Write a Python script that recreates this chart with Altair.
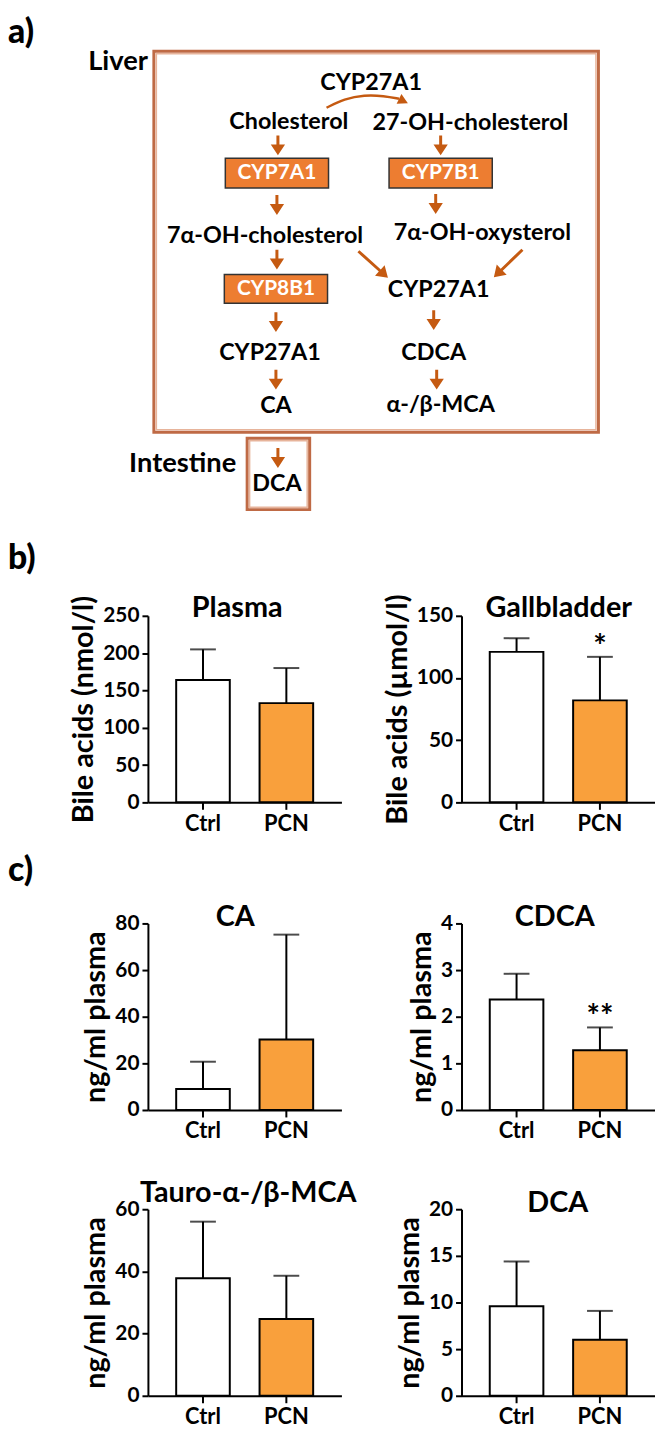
import altair as alt
import pandas as pd

# ---------------- values ----------------
groups = ["Ctrl", "PCN"]
bar_colors = ["#ffffff", "#f9a03c"]

plasma_mean = [164, 133]
plasma_sd = [41, 47]
gall_mean = [121, 82]
gall_sd = [11, 35]
ca_mean = [9, 30.2]
ca_sd = [11.7, 45]
cdca_mean = [2.37, 1.28]
cdca_sd = [0.55, 0.49]
tmca_mean = [37.8, 24.7]
tmca_sd = [18.2, 13.9]
dca_mean = [9.6, 6.0]
dca_sd = [4.8, 3.1]

gall_sig = ["", "*"]
cdca_sig = ["", "**"]
no_sig = ["", ""]

plasma_ticks = [0, 50, 100, 150, 200, 250]
gall_ticks = [0, 50, 100, 150]
ca_ticks = [0, 20, 40, 60, 80]
cdca_ticks = [0, 1, 2, 3, 4]
tmca_ticks = [0, 20, 40, 60]
dca_ticks = [0, 5, 10, 15, 20]

# ---------------- pathway diagram: texts ----------------
node_labels = ["CYP27A1", "Cholesterol", "27-OH-cholesterol", "7α-OH-cholesterol",
               "7α-OH-oxysterol", "CYP27A1", "CYP27A1", "CDCA", "CA", "α-/β-MCA", "DCA"]
enzyme_labels = ["CYP7A1", "CYP7B1", "CYP8B1"]
organ_labels = ["Liver", "Intestine"]
panel_letters = ["a)", "b)", "c)"]

# ---------------- layout (page pixel positions) ----------------
X0, X1 = 149, 344          # left column plot area
Y0, Y1 = 8, 612            # diagram cell
DY = -6                    # vertical nudge of the diagram
node_pos = [(374, 81), (291, 120), (474, 121), (267, 235), (486, 232), (442, 290),
            (272, 353), (437, 353), (278, 407), (444, 406), (279, 485)]
enzyme_box = [(227, 331, 157, 187), (392, 496, 157, 187), (226, 330, 274, 303)]
organ_label_pos = [(149, 60), (238, 465)]
organ_box = [(155, 603, 49, 433), (249, 312, 439, 511)]
letter_pos = [(8, 25), (8, 555), (8, 869)]
short_arrows = [(280, 144, 0), (444, 144, 0), (279, 204, 0), (439, 203, 0), (279, 259, 0),
                (278, 322, 0), (437, 320, 0), (278, 380, 0), (440, 380, 0), (280, 459, 0)]
long_arrows = [(376, 264, 312), (512, 263, 46)]
curve_pts = [(329, 106), (347, 97), (367, 93), (387, 94), (402, 97)]
curve_head = [(406, 99, 296)]

# chart title anchor inside each panel (x from plot left, baseline from plot top)
title_anchor = {"Plasma": (90, 1), "Gallbladder": (98, 1), "CA": (88, 3),
                "CDCA": (94, 3), "Tauro-α-/β-MCA": (101, -7), "DCA": (97, 3)}

ARROW = "#c55a11"
ORANGE = "#ed7d31"
BORDER = "#bf6a45"
BORDER_IN = "#e7b49b"
FONT = "Lato"

xs = alt.Scale(domain=[X0, X1], nice=False, zero=False)
ys = alt.Scale(domain=[Y0, Y1], nice=False, zero=False, reverse=True)


def X(f):
    return alt.X(f, type="quantitative", scale=xs, axis=None)


def Y(f):
    return alt.Y(f, type="quantitative", scale=ys, axis=None)


organ_df = pd.DataFrame({"x1": [b[0] for b in organ_box], "x2": [b[1] for b in organ_box],
                         "y1": [b[2] + DY for b in organ_box], "y2": [b[3] + DY for b in organ_box]})
organ_rect = alt.Chart(organ_df).mark_rect(fillOpacity=0, stroke=BORDER, strokeWidth=3).encode(
    x=X("x1"), x2="x2", y=Y("y1"), y2="y2")
organ_in = organ_df.copy()
organ_in["x1"] += 2.5
organ_in["x2"] -= 2.5
organ_in["y1"] += 2.5
organ_in["y2"] -= 2.5
organ_rect_in = alt.Chart(organ_in).mark_rect(fillOpacity=0, stroke=BORDER_IN, strokeWidth=1.5).encode(
    x=X("x1"), x2="x2", y=Y("y1"), y2="y2")

enz_df = pd.DataFrame({"label": enzyme_labels,
                       "x1": [b[0] for b in enzyme_box], "x2": [b[1] for b in enzyme_box],
                       "y1": [b[2] + DY for b in enzyme_box], "y2": [b[3] + DY for b in enzyme_box]})
enz_df["xc"] = (enz_df.x1 + enz_df.x2) / 2
enz_df["yc"] = (enz_df.y1 + enz_df.y2) / 2
enz_rect = alt.Chart(enz_df).mark_rect(fill=ORANGE, stroke="#333333", strokeWidth=1.5).encode(
    x=X("x1"), x2="x2", y=Y("y1"), y2="y2")
enz_text = alt.Chart(enz_df).mark_text(font=FONT, fontWeight="bold", fontSize=21, color="white",
                                       baseline="middle", align="center").encode(
    x=X("xc"), y=Y("yc"), text="label:N")

node_df = pd.DataFrame({"label": node_labels, "x": [p[0] for p in node_pos],
                        "y": [p[1] + DY for p in node_pos]})
node_text = alt.Chart(node_df).mark_text(font=FONT, fontWeight="bold", fontSize=23.5, color="black",
                                         baseline="middle", align="center").encode(
    x=X("x"), y=Y("y"), text="label:N")

organ_tdf = pd.DataFrame({"label": organ_labels, "x": [p[0] for p in organ_label_pos],
                          "y": [p[1] + DY for p in organ_label_pos]})
organ_text = alt.Chart(organ_tdf).mark_text(font=FONT, fontWeight="bold", fontSize=27.5, color="black",
                                            baseline="middle", align="right").encode(
    x=X("x"), y=Y("y"), text="label:N")

letter_df = pd.DataFrame({"label": panel_letters, "x": [p[0] for p in letter_pos],
                          "y": [p[1] for p in letter_pos]})
letter_text = alt.Chart(letter_df).mark_text(font=FONT, fontWeight=900, fontSize=34, color="black",
                                             baseline="middle", align="left").encode(
    x=X("x"), y=Y("y"), text="label:N")

SHORT = "M-0.15,-1L0.15,-1L0.15,-0.1L0.72,-0.1L0,1L-0.72,-0.1L-0.15,-0.1Z"
LONG = "M-0.075,-1L0.075,-1L0.075,0.45L0.36,0.45L0,1L-0.36,0.45L-0.075,0.45Z"
HEAD = "M-1,-0.8L1,-0.8L0,1Z"

sa_df = pd.DataFrame({"x": [a[0] for a in short_arrows], "y": [a[1] + DY for a in short_arrows],
                      "ang": [a[2] for a in short_arrows]})
sa = alt.Chart(sa_df).mark_point(shape=SHORT, filled=True, size=400, color=ARROW, opacity=1).encode(
    x=X("x"), y=Y("y"), angle=alt.Angle("ang:Q", scale=None))
la_df = pd.DataFrame({"x": [a[0] for a in long_arrows], "y": [a[1] + DY for a in long_arrows],
                      "ang": [a[2] for a in long_arrows]})
la = alt.Chart(la_df).mark_point(shape=LONG, filled=True, size=1600, color=ARROW, opacity=1).encode(
    x=X("x"), y=Y("y"), angle=alt.Angle("ang:Q", scale=None))
cv_df = pd.DataFrame({"x": [p[0] for p in curve_pts], "y": [p[1] + DY for p in curve_pts],
                      "i": list(range(len(curve_pts)))})
cv = alt.Chart(cv_df).mark_line(interpolate="basis", color=ARROW, strokeWidth=2.5).encode(
    x=X("x"), y=Y("y"), order="i:Q")
ch_df = pd.DataFrame({"x": [a[0] for a in curve_head], "y": [a[1] + DY for a in curve_head],
                      "ang": [a[2] for a in curve_head]})
ch = alt.Chart(ch_df).mark_point(shape=HEAD, filled=True, size=121, color=ARROW, opacity=1).encode(
    x=X("x"), y=Y("y"), angle=alt.Angle("ang:Q", scale=None))

diagram = alt.layer(organ_rect, organ_rect_in, enz_rect, enz_text, node_text, organ_text, letter_text,
                    sa, la, cv, ch).properties(width=X1 - X0, height=Y1 - Y0)


# ---------------- bar panels ----------------
def bar_panel(name, ytitle, mean, sd, sig, ticks):
    df = pd.DataFrame({"group": groups, "mean": mean,
                       "upper": [m + s for m, s in zip(mean, sd)], "sig": sig})
    ymax = ticks[-1]
    xenc = alt.X("group:N", sort=groups, title=None,
                 scale=alt.Scale(paddingInner=0.357, paddingOuter=0.339),
                 axis=alt.Axis(labelAngle=0))

    def yenc(f):
        return alt.Y(f, type="quantitative", title=ytitle,
                     scale=alt.Scale(domain=[0, ymax], nice=False, zero=True),
                     axis=alt.Axis(values=ticks))

    base = alt.Chart(df)
    bars = base.mark_bar(stroke="black", strokeWidth=2).encode(
        x=xenc, y=yenc("mean"),
        fill=alt.Fill("group:N", scale=alt.Scale(domain=groups, range=bar_colors), legend=None))
    rule = base.mark_rule(color="black", strokeWidth=2).encode(x=xenc, y=yenc("mean"), y2="upper:Q")
    cap = base.mark_tick(color="black", thickness=2, size=26).encode(x=xenc, y=yenc("upper"))
    tx, ty = title_anchor[name]
    ttl = alt.Chart(pd.DataFrame({"t": [name]})).mark_text(
        font=FONT, fontWeight="bold", fontSize=29, color="black", baseline="alphabetic", align="center"
    ).encode(x=alt.value(tx), y=alt.value(ty), text="t:N")
    layers = [bars, rule, cap]
    if any(s for s in sig):
        stars = base.transform_filter("datum.sig != ''").mark_text(
            font=FONT, fontWeight="bold", fontSize=32, color="black", baseline="alphabetic", dy=1
        ).encode(x=xenc, y=yenc("upper"), text="sig:N")
        layers.append(stars)
    layers.append(ttl)
    return alt.layer(*layers).properties(width=195, height=188)


def spacer(h):
    return alt.Chart(pd.DataFrame({"v": [0]})).mark_point(opacity=0).encode(
        x=alt.X("v:Q", axis=None), y=alt.Y("v:Q", axis=None)).properties(width=195, height=h)


plasma = bar_panel("Plasma", "Bile acids (nmol/l)", plasma_mean, plasma_sd, no_sig, plasma_ticks)
gall = bar_panel("Gallbladder", "Bile acids (µmol/l)", gall_mean, gall_sd, gall_sig, gall_ticks)
ca = bar_panel("CA", "ng/ml plasma", ca_mean, ca_sd, no_sig, ca_ticks)
cdca = bar_panel("CDCA", "ng/ml plasma", cdca_mean, cdca_sd, cdca_sig, cdca_ticks)
tmca = bar_panel("Tauro-α-/β-MCA", "ng/ml plasma", tmca_mean, tmca_sd, no_sig, tmca_ticks)
dca = bar_panel("DCA", "ng/ml plasma", dca_mean, dca_sd, no_sig, dca_ticks)

chart = alt.concat(
    diagram, spacer(1),
    plasma, gall,
    spacer(122), spacer(122),
    ca, cdca,
    spacer(100), spacer(100),
    tmca, dca,
    columns=2, spacing={"row": 0, "column": 121}, bounds="flush", align="each",
).properties(padding=0).configure_view(strokeWidth=0).configure_axis(
    domainColor="black", domainWidth=2, tickColor="black", tickWidth=2,
    labelColor="black", titleColor="black", labelFont=FONT, titleFont=FONT,
    labelFontWeight="bold", titleFontWeight="bold", grid=False, labelOverlap=False,
).configure_axisX(labelFontSize=22, tickSize=7, labelPadding=4).configure_axisY(
    labelFontSize=21, titleFontSize=29, tickSize=6, labelPadding=3, titlePadding=4)

chart.save("out.html", embed_options={"renderer": "svg", "actions": False})
